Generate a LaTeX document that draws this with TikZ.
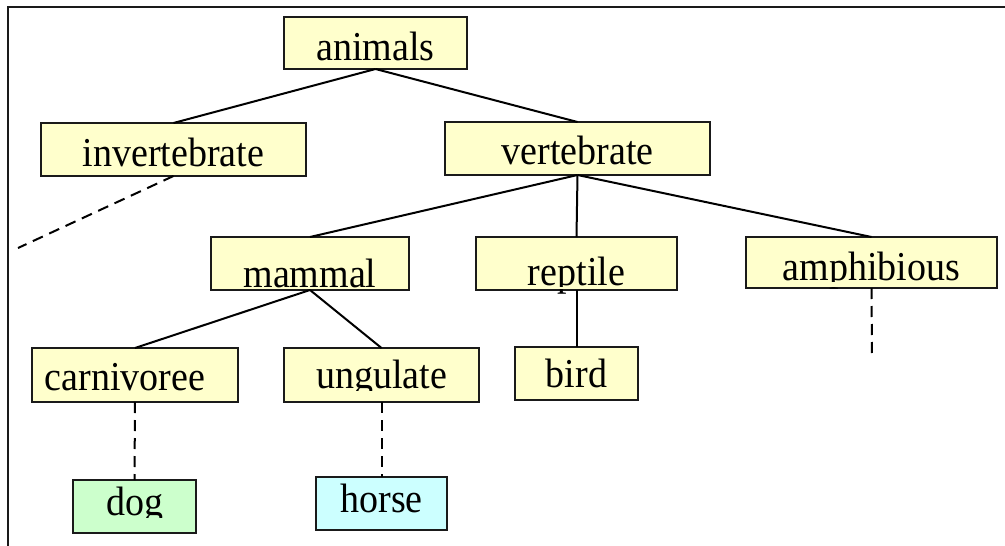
\documentclass[tikz,border=0pt]{standalone}
\usepackage{fontspec}
\setmainfont{Liberation Serif}
\definecolor{yel}{HTML}{FFFFCC}
\definecolor{grn}{HTML}{CCFFCC}
\definecolor{cyn}{HTML}{CCFFFF}
\definecolor{edge}{HTML}{1A1A1A}
\newcommand{\tallword}[1]{\scalebox{1}[1.08]{#1}}
\tikzset{
  box/.style={draw=edge, line width=2pt, fill=yel, rectangle, inner sep=0pt, outer sep=0pt,
    font=\fontsize{38}{40}\selectfont},
  link/.style={line width=2pt, draw=black},
  dlink/.style={line width=2pt, draw=black, dash pattern=on 11pt off 7pt},
  frame/.style={line width=2pt, draw=edge},
}
\begin{document}
\begin{tikzpicture}[x=1pt,y=-1pt]
\useasboundingbox (0,0) rectangle (1005,546);
\draw[frame] (1005,6.5) -- (8,6.5) -- (8,546);
% nodes: minimum width, text height + text depth = height
\node[box, minimum width=183pt, text height=43pt, text depth=9pt]  (animals) at (375.5,43) {\tallword{animals}};
\node[box, minimum width=265pt, text height=43pt, text depth=10pt] (invert) at (173.5,149.5) {\tallword{invertebrate}};
\node[box, minimum width=265pt, text height=42pt, text depth=11pt] (vert) at (577.5,148.5) {\tallword{vertebrate}};
\node[box, minimum width=198pt, text height=50pt, text depth=3pt]  (mammal) at (310,263.5) {\tallword{mammal}};
\node[box, minimum width=201pt, text height=48pt, text depth=5pt]  (reptile) at (576.5,263.5) {\tallword{reptile}};
\node[box, minimum width=251pt, text height=43pt, text depth=8pt]  (amph) at (871.5,262.5) {\tallword{amphibious}};
\node[box, minimum width=206pt, text height=42pt, text depth=12pt] (carn) at (135,375) {\tallword{carnivoree}\hspace*{20pt}};
\node[box, minimum width=195pt, text height=40pt, text depth=14pt] (ungu) at (381.5,375) {\tallword{ungulate}};
\node[box, minimum width=123pt, text height=40pt, text depth=13pt] (bird) at (576.5,373.5) {\tallword{bird}};
\node[box, fill=grn, minimum width=123pt, text height=35pt, text depth=18pt] (dog) at (134.5,506.5) {\tallword{dog}};
\node[box, fill=cyn, minimum width=131pt, text height=35pt, text depth=18pt] (horse) at (381.5,503.5) {\tallword{horse}};
% descenders cut off at the lower part of the boxes
\fill[yel] ([xshift=1.2pt,yshift=1pt]reptile.south west) rectangle ([xshift=-1.2pt,yshift=3.5pt]reptile.south east);
\fill[yel] ([xshift=1.2pt,yshift=1pt]amph.south west) rectangle ([xshift=-1.2pt,yshift=6pt]amph.south east);
\fill[yel] ([xshift=1.2pt,yshift=1pt]ungu.south west) rectangle ([xshift=-1.2pt,yshift=11pt]ungu.south east);
\fill[grn] ([xshift=1.2pt,yshift=1pt]dog.south west) rectangle ([xshift=-1.2pt,yshift=15pt]dog.south east);
% free ends
\coordinate (invEnd) at (18,248);
\coordinate (amphEnd) at (872,358);
% connectors
\draw[link] (animals.south) -- (invert.north);
\draw[link] (animals.south) -- (vert.north);
\draw[link] (vert.south) -- (mammal.north);
\draw[link] (vert.south) -- (reptile.north);
\draw[link] (vert.south) -- (amph.north);
\draw[link] (mammal.south) -- (carn.north);
\draw[link] (mammal.south) -- (ungu.north);
\draw[link] (reptile.south) -- (bird.north);
\draw[dlink] (invert.south) -- (invEnd);
\draw[dlink] (amph.south) -- (amphEnd);
\draw[dlink] (carn.south) -- (dog.north);
\draw[dlink] (ungu.south) -- (horse.north);
\end{tikzpicture}
\end{document}
